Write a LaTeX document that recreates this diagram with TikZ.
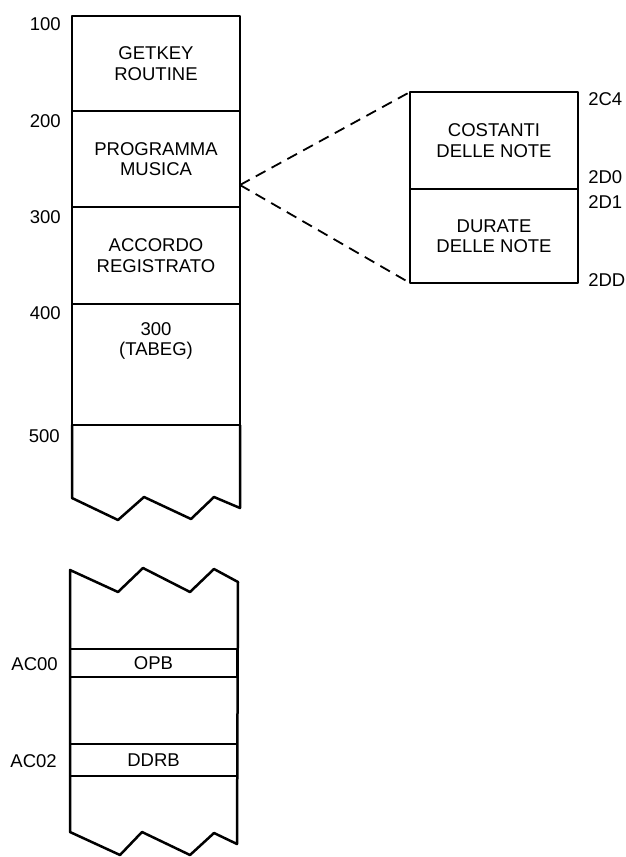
\documentclass[tikz,border=0pt]{standalone}
\usepackage{fontspec}
\setmainfont{Liberation Sans}
\usetikzlibrary{positioning, calc}
\tikzset{
  every picture/.style={x=1pt, y=-1pt, line width=2.5pt, line join=round, line cap=round},
  cell/.style={draw, align=center, minimum width=168pt, inner sep=0pt, outer sep=0pt, font=\fontsize{18.5}{20.5}\selectfont},
  addr/.style={font=\fontsize{18.5}{20}\selectfont, inner sep=0pt},
  zoomline/.style={dash pattern=on 11pt off 7pt, line width=1.8pt, line cap=butt},
}

\begin{document}
\begin{tikzpicture}
  \useasboundingbox (0,0) rectangle (625,857);
  % upper column of the memory map
  \node[cell, minimum height=95pt] (getkey) at (156,63.5) {GETKEY\\ROUTINE};
  \node[cell, minimum height=96pt] (musica) at (156,159) {PROGRAMMA\\MUSICA};
  \node[cell, minimum height=97pt] (accordo) at (156,255.5) {ACCORDO\\REGISTRATO};
  \node[cell, minimum height=121pt] (tabeg) at (156,364.5) {};
  \node[cell, draw=none] (tabegtxt) at (156,341) {300\\(TABEG)};
  \draw (tabeg.south west) -- (72,498) -- (118,520) -- (144,497) -- (191,519) -- (214,497) -- (240,508) -- (tabeg.south east);
  \node[addr, anchor=east] (a100) at (62,24) {100};
  \node[addr, anchor=east] (a200) at (62,121) {200};
  \node[addr, anchor=east] (a300) at (62,217) {300};
  \node[addr, anchor=east] (a400) at (62,313) {400};
  \node[addr, anchor=east] (a500) at (61,436) {500};
  % lower column, I/O registers
  \draw (238,582) -- (214,569) -- (190,592) -- (143,568) -- (118,592) -- (70,570) -- (70,832) -- (120,855) -- (142,832) -- (190,855) -- (214,833) -- (237,844) -- cycle;
  \node[cell, minimum width=167pt, minimum height=28pt] (opb) at (153.5,663) {OPB};
  \node[cell, minimum width=167pt, minimum height=32pt] (ddrb) at (153.5,760) {DDRB};
  \node[addr, anchor=east] (ac00) at (59,664) {AC00};
  \node[addr, anchor=east] (ac02) at (58,761) {AC02};
  % detail of the music program
  \node[cell, minimum height=97pt] (costanti) at (494,140.5) {COSTANTI\\DELLE NOTE};
  \node[cell, minimum height=94pt] (durate) at (494,236) {DURATE\\DELLE NOTE};
  \coordinate (apex) at (240,185);
  \draw[zoomline] (apex) -- (costanti.north west);
  \draw[zoomline] (apex) -- (durate.south west);
  \node[addr, anchor=west] (a2c4) at (587,99) {2C4};
  \node[addr, anchor=west] (a2d0) at (587,177) {2D0};
  \node[addr, anchor=west] (a2d1) at (587,202) {2D1};
  \node[addr, anchor=west] (a2dd) at (587,280) {2DD};
\end{tikzpicture}
\end{document}
